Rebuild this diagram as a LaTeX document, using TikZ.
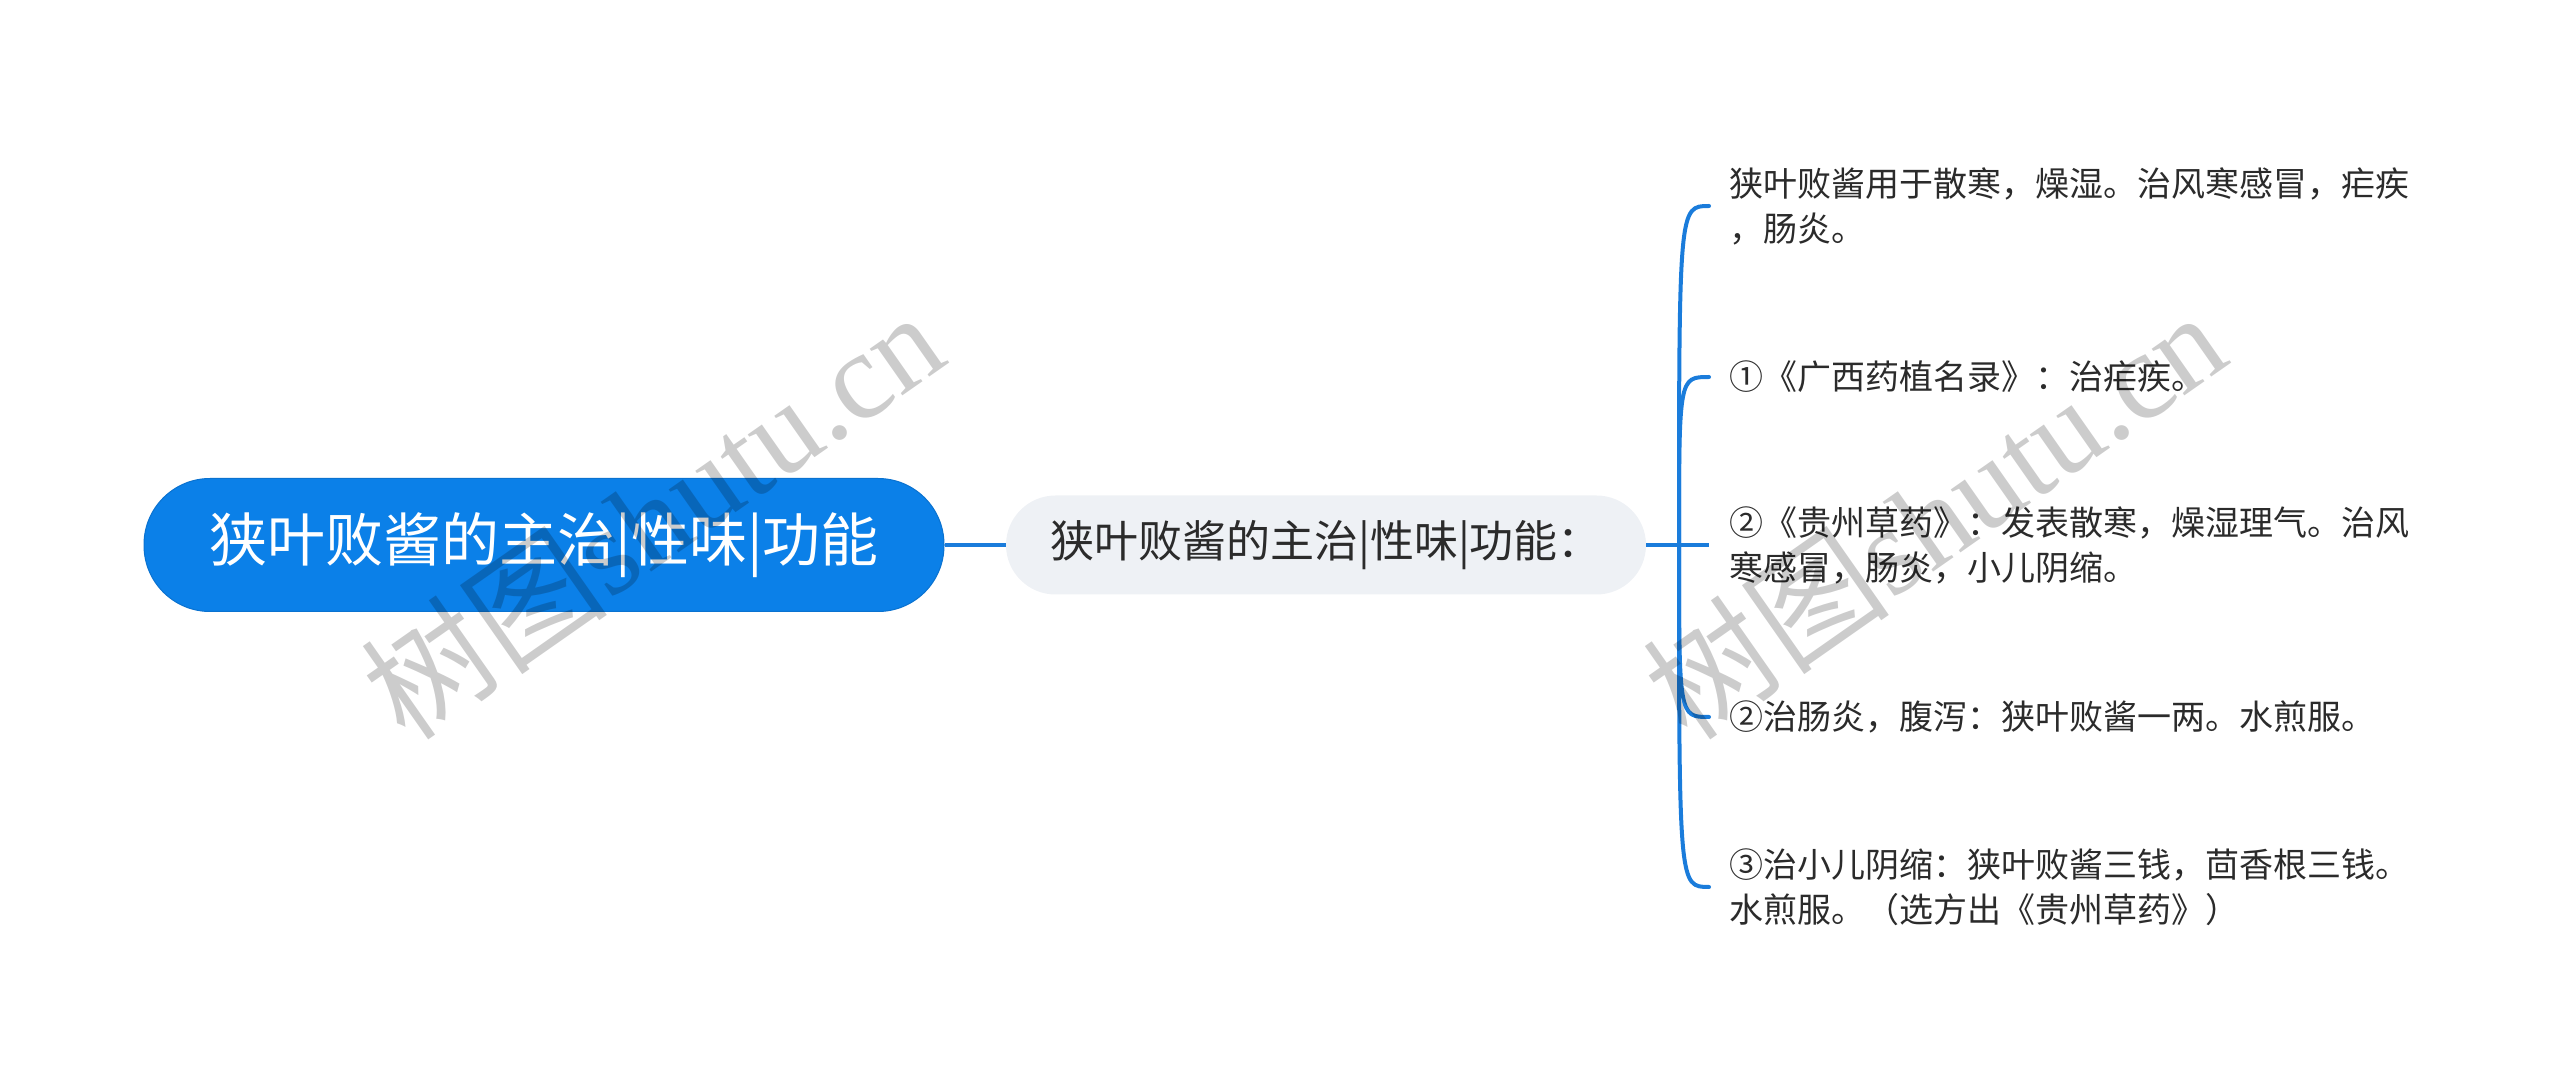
\documentclass[tikz,border=0pt]{standalone}
\usepackage{fontspec}
\setmainfont{Noto Sans CJK SC}
\newfontfamily\wmserif{Liberation Serif}
\definecolor{mainblue}{HTML}{0B80E8}
\definecolor{rootedge}{HTML}{0A72D0}
\definecolor{lineblue}{HTML}{1A7CDB}
\definecolor{subfill}{HTML}{EEF1F5}
\definecolor{txt}{HTML}{2B2B2B}
\tikzset{
  rootnode/.style={fill=mainblue, draw=rootedge, line width=0.5pt, rounded corners=33pt,
    minimum width=400pt, minimum height=66.5pt, inner sep=0pt, text=white,
    font=\fontsize{29pt}{34pt}\selectfont},
  subnode/.style={fill=subfill, rounded corners=24.75pt, minimum width=320pt,
    minimum height=49.5pt, inner sep=0pt, text=txt, font=\fontsize{22pt}{26pt}\selectfont},
  leaf/.style={anchor=west, inner xsep=10pt, inner ysep=0pt, align=left, text=txt,
    font=\fontsize{17pt}{22.5pt}\selectfont},
  conn/.style={draw=lineblue, line width=2pt},
  wmark/.style={rotate=35, text=black, text opacity=0.2, inner sep=0pt,
    font=\fontsize{62pt}{62pt}\selectfont}
}
\begin{document}
\begin{tikzpicture}[x=0.5pt,y=-0.5pt]
\useasboundingbox (0,0) rectangle (2560,1090);
% main nodes
\node[rootnode] (root) at (544,545) {狭叶败酱的主治|性味|功能};
\node[subnode] (sub) at (1326,545) {狭叶败酱的主治|性味|功能：};
\coordinate (sp) at (1679,545);
% leaves
\node[leaf] (t1) at (1709,206) {狭叶败酱用于散寒，燥湿。治风寒感冒，疟疾\\，肠炎。};
\node[leaf] (t2) at (1709,377) {①《广西药植名录》：治疟疾。};
\node[leaf] (t3) at (1709,545) {②《贵州草药》：发表散寒，燥湿理气。治风\\寒感冒，肠炎，小儿阴缩。};
\node[leaf] (t4) at (1709,717) {②治肠炎，腹泻：狭叶败酱一两。水煎服。};
\node[leaf] (t5) at (1709,887) {③治小儿阴缩：狭叶败酱三钱，茴香根三钱。\\水煎服。（选方出《贵州草药》）};
% connectors
\draw[conn] (root.east) -- (sub.west);
\draw[conn] (sub.east) -- (sp);
\draw[conn, line cap=round] (sp) .. controls (sp |- t1.west) .. (t1.west);
\draw[conn, line cap=round] (sp) .. controls (sp |- t2.west) .. (t2.west);
\draw[conn] (sp) -- (t3.west);
\draw[conn, line cap=round] (sp) .. controls (sp |- t4.west) .. (t4.west);
\draw[conn, line cap=round] (sp) .. controls (sp |- t5.west) .. (t5.west);
% watermarks
\node[wmark] (wm1) at (652,514) {树图{\wmserif shutu.cn}};
\node[wmark] (wm2) at (1934,514) {树图{\wmserif shutu.cn}};
\end{tikzpicture}
\end{document}
